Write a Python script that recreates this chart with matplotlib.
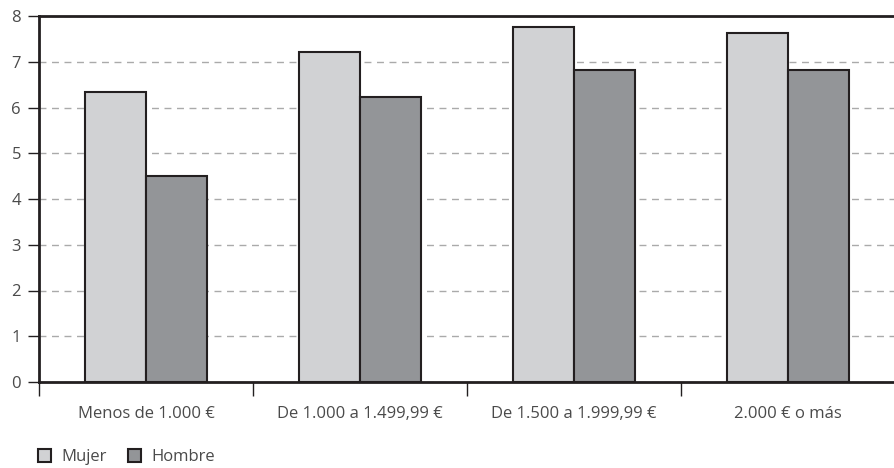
import numpy as np
import matplotlib.pyplot as plt
from matplotlib.patches import Patch

plt.rcParams['font.family'] = ['Open Sans', 'DejaVu Sans']

categories = ['Menos de 1.000 €', 'De 1.000 a 1.499,99 €', 'De 1.500 a 1.999,99 €', '2.000 € o más']
mujer = [6.34, 7.21, 7.75, 7.63]
hombre = [4.50, 6.23, 6.83, 6.83]
series_names = ['Mujer', 'Hombre']

c_mujer = '#d1d2d4'
c_hombre = '#939598'
edge = '#231f20'
txt = '#4a4a4a'

fig = plt.figure(figsize=(8.95, 4.68), dpi=100)
ax = fig.add_axes([39 / 895, 86 / 468, (895 - 39) / 895, (382 - 16) / 468])

x = np.arange(len(categories))
w = 0.285
ax.bar(x - w / 2, mujer, w, color=c_mujer, edgecolor=edge, linewidth=1.5, zorder=3)
ax.bar(x + w / 2, hombre, w, color=c_hombre, edgecolor=edge, linewidth=1.5, zorder=3)

ax.set_xlim(-0.5, -0.5 + (895 - 39) / 216.5)
ax.set_ylim(0, 8)
ax.set_yticks(range(0, 9))
ax.yaxis.grid(True, linestyle=(0, (5, 4)), color='#aaaaaa', linewidth=1, zorder=0)

ax.set_xticks(x)
ax.set_xticklabels(categories)
ax.set_xticks(np.arange(len(categories) + 1) - 0.5, minor=True)
ax.tick_params(axis='x', which='major', length=0, pad=17, labelsize=12, labelcolor=txt)
ax.tick_params(axis='x', which='minor', length=10, width=1, color=edge, direction='out')
ax.tick_params(axis='y', length=8, width=1, color=edge, labelsize=12, labelcolor=txt, pad=5)

for s in ['left', 'bottom', 'top']:
    ax.spines[s].set_linewidth(2)
    ax.spines[s].set_color(edge)
ax.spines['right'].set_visible(False)

handles = [Patch(facecolor=c_mujer, edgecolor=edge, linewidth=1.5),
           Patch(facecolor=c_hombre, edgecolor=edge, linewidth=1.5)]
fig.legend(handles, series_names, loc='lower left', bbox_to_anchor=(31 / 895, -4 / 468),
           borderaxespad=0, ncol=2, frameon=False, handlelength=0.8, handleheight=0.8,
           handletextpad=0.6, columnspacing=1.3, fontsize=12, labelcolor=txt)

fig.savefig('out.png', dpi=100)
